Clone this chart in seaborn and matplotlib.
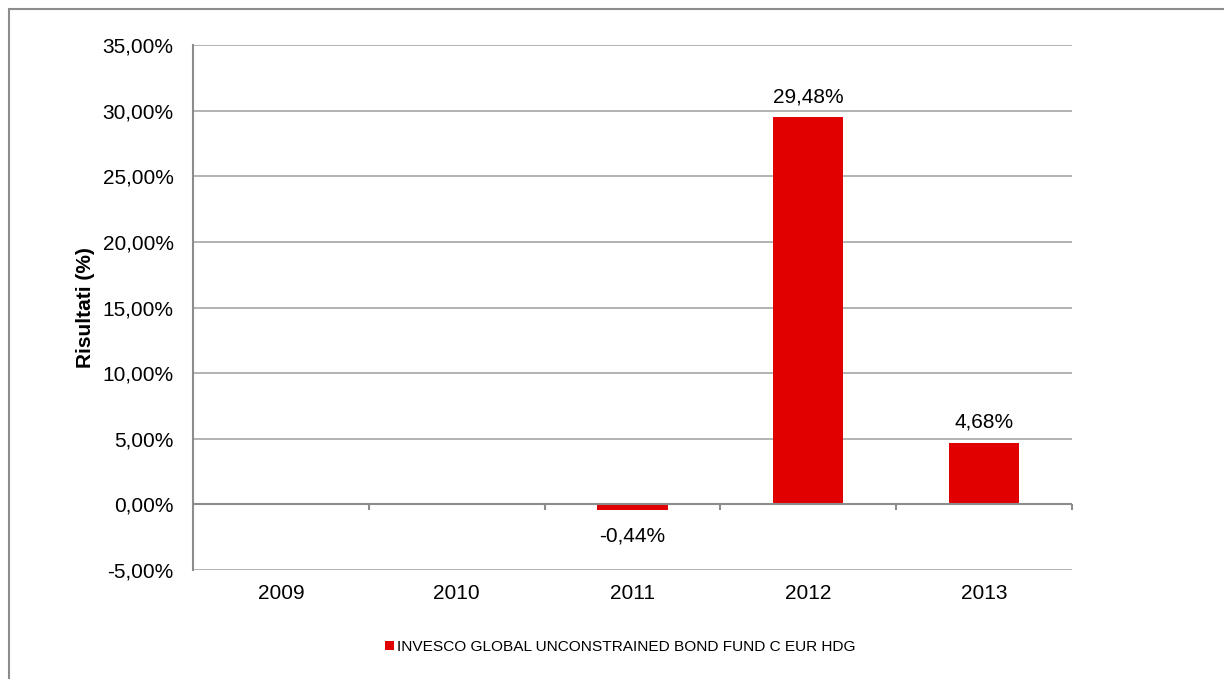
import numpy as np
import pandas as pd
import matplotlib
matplotlib.use("Agg")
import matplotlib.pyplot as plt
import seaborn as sns
from matplotlib.patches import Rectangle, Patch

years = ["2009", "2010", "2011", "2012", "2013"]
results = [np.nan, np.nan, -0.44, 29.48, 4.68]
series_name = "INVESCO GLOBAL UNCONSTRAINED BOND FUND C EUR HDG"
yticks = [-5, 0, 5, 10, 15, 20, 25, 30, 35]

data = pd.DataFrame({"year": years, "result": results})

sns.set_style("white")
plt.rcParams["font.family"] = ["Liberation Sans", "DejaVu Sans"]
plt.rcParams["text.color"] = "black"
plt.rcParams["xtick.color"] = "black"
plt.rcParams["ytick.color"] = "black"
plt.rcParams["axes.labelcolor"] = "black"

fig = plt.figure(figsize=(12.24, 6.79), dpi=100)
ax = fig.add_axes([193 / 1224, 1 - 570 / 679, (1072 - 193) / 1224, (570 - 45) / 679])

red = "#E00000"
sns.barplot(data=data.dropna(), x="year", y="result", order=years, color=red,
            width=0.4, saturation=1, ax=ax, edgecolor="none")

ax.set_xlim(-0.5, len(years) - 0.5)
ax.set_ylim(-5, 35)
ax.set_yticks(yticks)
ax.set_yticklabels([f"{v:.2f}%".replace(".", ",") for v in yticks], fontsize=15)
ax.yaxis.grid(True, color="#A6A6A6", linewidth=1.2)
ax.set_axisbelow(True)

for s in ["top", "right", "bottom"]:
    ax.spines[s].set_visible(False)
ax.spines["left"].set_color("#8C8C8C")
ax.spines["left"].set_linewidth(1.5)
ax.tick_params(axis="y", which="major", length=6, width=1.2, color="#8C8C8C",
               labelcolor="black", pad=8)
ax.tick_params(axis="x", length=0, labelsize=15, pad=10, labelcolor="black")

# category axis sits on the zero line
ax.axhline(0, color="#8C8C8C", linewidth=1.5, zorder=1)
bounds = np.arange(len(years) + 1) - 0.5
ax.vlines(bounds[1:], -0.45, 0, color="#8C8C8C", linewidth=1.5, clip_on=False)

ax.set_xlabel("")
ax.set_ylabel("Risultati (%)", fontsize=15, fontweight="bold", labelpad=5)

for i, v in enumerate(results):
    if np.isnan(v):
        continue
    txt = f"{v:.2f}%".replace(".", ",")
    if v >= 0:
        ax.annotate(txt, (i, v), xytext=(0, 8), textcoords="offset points",
                    ha="center", va="bottom", fontsize=15)
    else:
        ax.annotate(txt, (i, v), xytext=(0, -12), textcoords="offset points",
                    ha="center", va="top", fontsize=15)

handle = Patch(facecolor=red, edgecolor="none")
fig.legend([handle], [series_name], loc="center",
           bbox_to_anchor=(620 / 1224, 1 - 647 / 679),
           frameon=False, fontsize=11.1, handlelength=0.6, handleheight=0.6,
           handletextpad=0.2)

fig.patches.append(Rectangle((9 / 1224, -0.05), 1.1, 1 - 9 / 679 + 0.05,
                             transform=fig.transFigure, fill=False,
                             edgecolor="#8C8C8C", linewidth=1.5))

fig.savefig("out.png", dpi=100)
